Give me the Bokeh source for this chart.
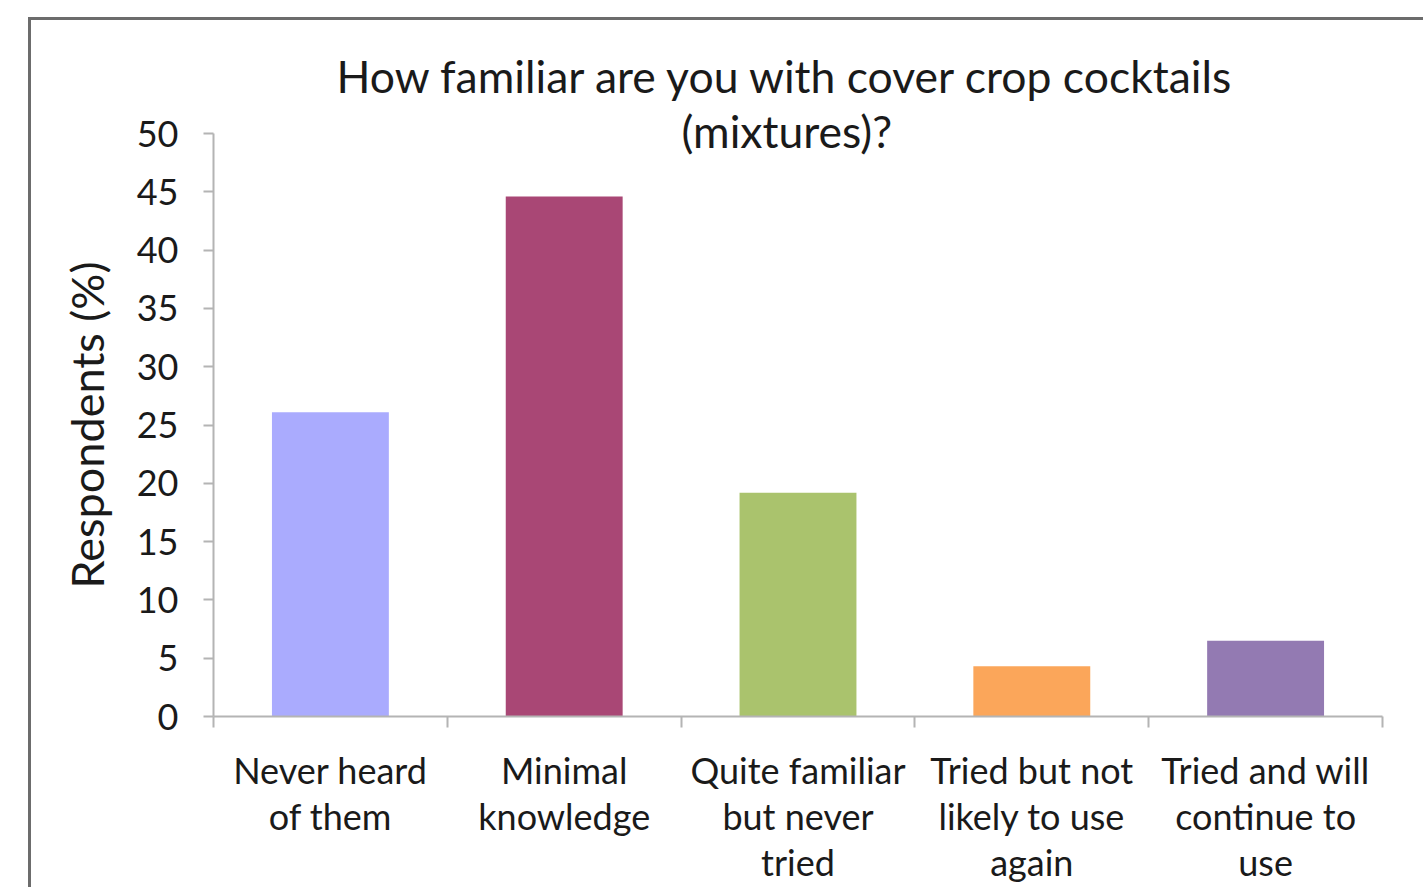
from bokeh.plotting import figure
from bokeh.models import Range1d, FixedTicker, Title, ColumnDataSource
from bokeh.embed import file_html
from bokeh.resources import INLINE

# Survey responses: familiarity with cover crop cocktails (mixtures)
categories = [
    "Never heard\nof them",
    "Minimal\nknowledge",
    "Quite familiar\nbut never\ntried",
    "Tried but not\nlikely to use\nagain",
    "Tried and will\ncontinue to\nuse",
]
respondents_pct = [26.1, 44.6, 19.2, 4.3, 6.5]
bar_colors = ["#AAABFE", "#A94775", "#AAC36D", "#FBA65A", "#937AB2"]
y_ticks = [0, 5, 10, 15, 20, 25, 30, 35, 40, 45, 50]
title_lines = ["How familiar are you with cover crop cocktails", "(mixtures)?"]

FONT = "Lato"

centers = [i + 0.5 for i in range(len(categories))]
bounds = list(range(len(categories) + 1))

source = ColumnDataSource(dict(x=centers, y=respondents_pct, color=bar_colors))

p = figure(
    width=1395, height=870,
    x_range=Range1d(0, len(categories)), y_range=Range1d(0, 50),
    output_backend="svg", toolbar_location=None,
    min_border_left=182, min_border_right=44,
    min_border_top=113, min_border_bottom=174,
)
p.styles = {
    "margin-left": "28px", "margin-top": "17px",
    "border-left": "3px solid #6c6c6c", "border-top": "3px solid #6c6c6c",
}
p.outline_line_color = None
p.xgrid.grid_line_color = None
p.ygrid.grid_line_color = None
p.background_fill_color = "white"
p.border_fill_color = "white"

p.vbar(x="x", top="y", width=0.5, fill_color="color", line_color=None, source=source)

# two-line title; the second line dips into the top of the plot area
title_style = dict(align="left", text_font=FONT, text_font_size="44.5px",
                   text_font_style="normal", text_color="#1a1a1a")
p.title.text = title_lines[0]
p.title.update(offset=123, standoff=46, **title_style)
p.add_layout(Title(text=title_lines[1], offset=468, standoff=-46, **title_style), "above")
# keep the second line directly above the frame, below the first line
p.above.insert(0, p.above.pop())

# y axis
yax = p.yaxis[0]
yax.ticker = FixedTicker(ticks=y_ticks, minor_ticks=[])
yax.axis_line_color = "#b4b4b4"
yax.axis_line_width = 2
yax.major_tick_line_color = "#b4b4b4"
yax.major_tick_line_width = 2
yax.major_tick_in = 0
yax.major_tick_out = 10
yax.minor_tick_line_color = None
yax.major_label_text_font = FONT
yax.major_label_text_font_size = "36px"
yax.major_label_text_color = "#1a1a1a"
yax.major_label_standoff = 25
yax.axis_label = "Respondents (%)"
yax.axis_label_text_font = FONT
yax.axis_label_text_font_size = "45px"
yax.axis_label_text_font_style = "normal"
yax.axis_label_text_color = "#1a1a1a"
yax.axis_label_standoff = 20

# x axis: category boundaries as ticks, names centred under the bars
xax = p.xaxis[0]
xax.ticker = FixedTicker(ticks=centers, minor_ticks=bounds)
xax.major_label_overrides = {c: lab for c, lab in zip(centers, categories)}
xax.axis_line_color = "#b4b4b4"
xax.axis_line_width = 2
xax.major_tick_line_color = None
xax.major_tick_in = 0
xax.major_tick_out = 0
xax.minor_tick_line_color = "#b4b4b4"
xax.minor_tick_line_width = 2
xax.minor_tick_in = 0
xax.minor_tick_out = 11
xax.major_label_text_font = FONT
xax.major_label_text_font_size = "36px"
xax.major_label_text_color = "#1a1a1a"
xax.major_label_text_line_height = 1.05
xax.major_label_standoff = 20

open("out.html", "w").write(file_html(p, INLINE))
